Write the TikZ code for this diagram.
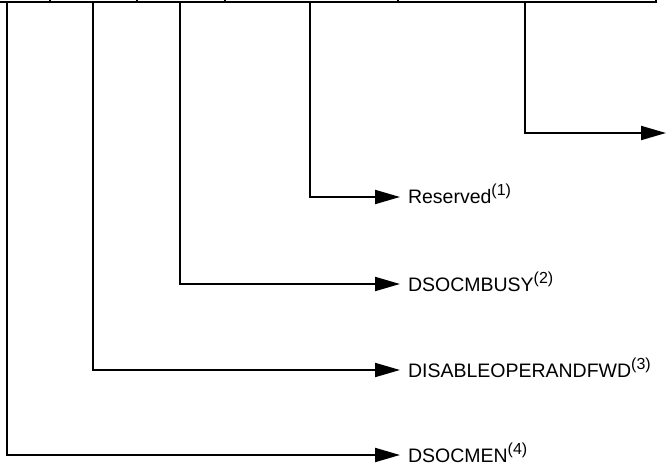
\documentclass[tikz,border=0pt]{standalone}
\usepackage{fontspec}
\setmainfont{Liberation Sans}
\usetikzlibrary{arrows.meta}

\newcommand{\bitnote}[1]{{\fontsize{16}{16}\selectfont\raisebox{8pt}{(#1)}}}

\begin{document}
\begin{tikzpicture}[
    x=1pt, y=-1pt,
    every node/.style={font=\fontsize{19.5}{23}\selectfont, inner sep=0pt, outer sep=0pt},
    >={Triangle[length=25pt, width=14pt]},
    field/.style={anchor=west, text height=14pt, text depth=0pt},
    link/.style={line width=2pt, ->, shorten >=8pt}
]
\useasboundingbox (0,0) rectangle (667,465);
\clip (0,0) rectangle (667,465);

% --- Register (only its lower edge is in view) ---
\draw[line width=2pt] (-5,-20) rectangle (656,2);
\foreach \x in {50,137,225,398}
    \draw[line width=2pt] (\x,-20) -- (\x,2);

% --- Bit taps on the register ---
\coordinate (tapen)   at (7,2);
\coordinate (tapfwd)  at (93,2);
\coordinate (tapbusy) at (180,2);
\coordinate (taprsv)  at (310,2);
\coordinate (tapout)  at (525,2);
\coordinate (outend)  at (666,133);

% --- Field labels ---
\node[field] (rsv)  at (408,197) {Reserved\bitnote{1}};
\node[field] (busy) at (408,284) {DSOCMBUSY\bitnote{2}};
\node[field] (fwd)  at (408,370) {DISABLEOPERANDFWD\bitnote{3}};
\node[field] (en)   at (408,455) {DSOCMEN\bitnote{4}};

% --- Connectors ---
\draw[link, shorten >=0pt] (tapout) |- (outend);
\draw[link] (taprsv)  |- (rsv.west);
\draw[link] (tapbusy) |- (busy.west);
\draw[link] (tapfwd)  |- (fwd.west);
\draw[link] (tapen)   |- (en.west);

\end{tikzpicture}
\end{document}
